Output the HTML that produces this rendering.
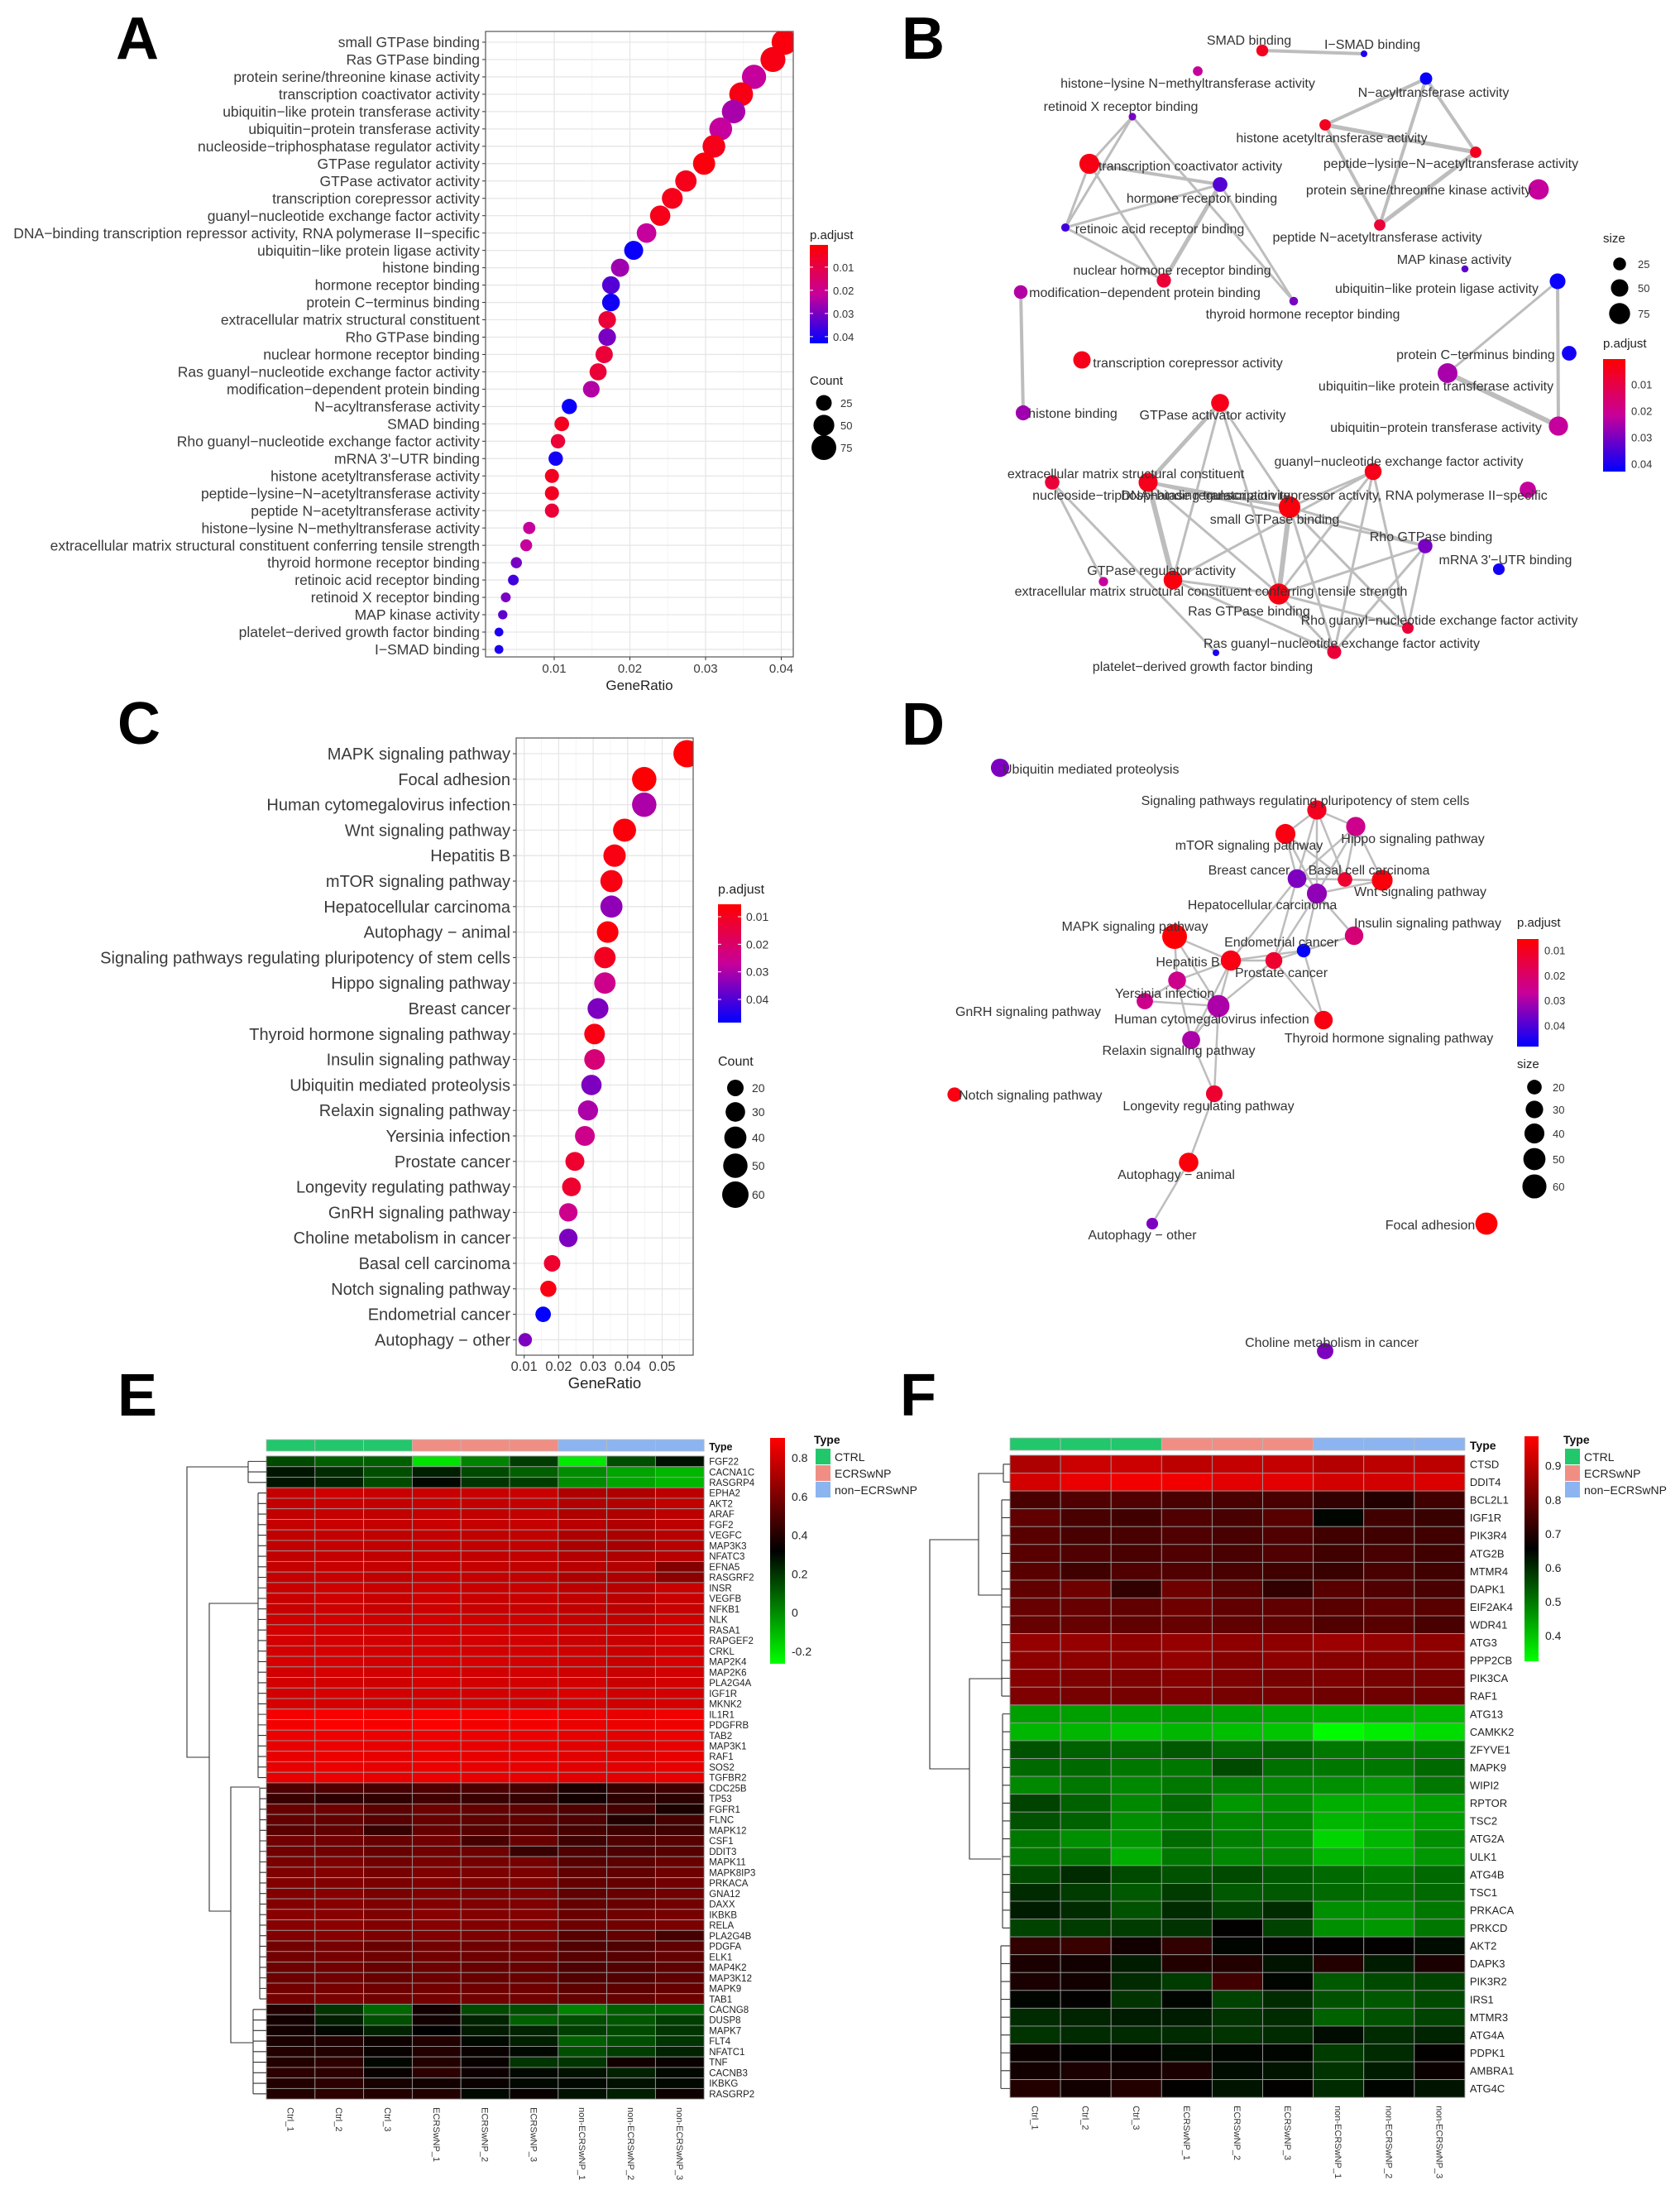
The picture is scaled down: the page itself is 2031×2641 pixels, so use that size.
<!DOCTYPE html>
<html><head><meta charset="utf-8"><title>Enrichment figure</title>
<style>
html,body{margin:0;padding:0;background:#fff;}
svg{display:block;font-family:"Liberation Sans",Arial,sans-serif;}
</style></head>
<body>
<svg id="fig" width="2031" height="2641" viewBox="0 0 2031 2641" xmlns="http://www.w3.org/2000/svg">
<rect x="0" y="0" width="2031" height="2641" fill="#fff"/>
<defs>
<clipPath id="clipA"><rect x="587" y="38" width="372" height="756"/></clipPath>
<clipPath id="clipC"><rect x="624" y="892" width="214" height="746"/></clipPath>
<linearGradient id="gradP" x1="0" y1="0" x2="0" y2="1"><stop offset="0" stop-color="#ff0000"/><stop offset="0.5" stop-color="#c8009a"/><stop offset="1" stop-color="#0000ff"/></linearGradient>
<linearGradient id="gradH" x1="0" y1="0" x2="0" y2="1"><stop offset="0" stop-color="#ff0000"/><stop offset="0.5" stop-color="#000000"/><stop offset="1" stop-color="#00ff00"/></linearGradient>
</defs>
<g font-weight="bold" font-size="72" fill="#000">
<text x="140" y="71">A</text>
<text x="1090" y="71">B</text>
<text x="142" y="899">C</text>
<text x="1090" y="900">D</text>
<text x="142" y="1711">E</text>
<text x="1088" y="1711">F</text>
</g>
<g id="gA"></g><g id="gB"></g><g id="gC"></g><g id="gD"></g><g id="gE"></g><g id="gF"></g>
</svg>
<script>
// ---------------- Panel A data ----------------
const A_terms = ["small GTPase binding","Ras GTPase binding","protein serine/threonine kinase activity","transcription coactivator activity","ubiquitin−like protein transferase activity","ubiquitin−protein transferase activity","nucleoside−triphosphatase regulator activity","GTPase regulator activity","GTPase activator activity","transcription corepressor activity","guanyl−nucleotide exchange factor activity","DNA−binding transcription repressor activity, RNA polymerase II−specific","ubiquitin−like protein ligase activity","histone binding","hormone receptor binding","protein C−terminus binding","extracellular matrix structural constituent","Rho GTPase binding","nuclear hormone receptor binding","Ras guanyl−nucleotide exchange factor activity","modification−dependent protein binding","N−acyltransferase activity","SMAD binding","Rho guanyl−nucleotide exchange factor activity","mRNA 3'−UTR binding","histone acetyltransferase activity","peptide−lysine−N−acetyltransferase activity","peptide N−acetyltransferase activity","histone−lysine N−methyltransferase activity","extracellular matrix structural constituent conferring tensile strength","thyroid hormone receptor binding","retinoic acid receptor binding","retinoid X receptor binding","MAP kinase activity","platelet−derived growth factor binding","I−SMAD binding"];
const A_ratio = [0.0404,0.0389,0.0364,0.0347,0.0337,0.0320,0.0311,0.0298,0.0274,0.0256,0.0240,0.0222,0.0205,0.0187,0.0175,0.0175,0.0170,0.0170,0.0166,0.0158,0.0149,0.0120,0.0110,0.0105,0.0102,0.0097,0.0097,0.0097,0.0067,0.0063,0.0050,0.0046,0.0036,0.0032,0.0027,0.0027];
const A_padj = [0.002,0.003,0.022,0.003,0.025,0.022,0.004,0.002,0.004,0.004,0.004,0.022,0.042,0.026,0.034,0.041,0.008,0.030,0.008,0.008,0.024,0.042,0.005,0.008,0.041,0.005,0.005,0.008,0.022,0.022,0.030,0.036,0.030,0.033,0.040,0.040];
const A_count = [79,76,71,68,66,62,61,58,53,50,47,43,40,36,34,34,33,33,32,31,29,23,21,20,20,19,19,19,13,12,10,9,7,6,5,5];
const A_xticks = [0.01,0.02,0.03,0.04];
const A_ptick = [0.01,0.02,0.03,0.04];
const A_cntLeg = [25,50,75];

// ---------------- Panel C data ----------------
const C_terms = ["MAPK signaling pathway","Focal adhesion","Human cytomegalovirus infection","Wnt signaling pathway","Hepatitis B","mTOR signaling pathway","Hepatocellular carcinoma","Autophagy − animal","Signaling pathways regulating pluripotency of stem cells","Hippo signaling pathway","Breast cancer","Thyroid hormone signaling pathway","Insulin signaling pathway","Ubiquitin mediated proteolysis","Relaxin signaling pathway","Yersinia infection","Prostate cancer","Longevity regulating pathway","GnRH signaling pathway","Choline metabolism in cancer","Basal cell carcinoma","Notch signaling pathway","Endometrial cancer","Autophagy − other"];
const C_ratio = [0.0572,0.0448,0.0448,0.0391,0.0362,0.0353,0.0353,0.0342,0.0334,0.0334,0.0314,0.0304,0.0304,0.0295,0.0285,0.0276,0.0247,0.0237,0.0228,0.0228,0.0181,0.0170,0.0155,0.0103];
const C_padj = [0.006,0.006,0.030,0.007,0.008,0.008,0.033,0.007,0.010,0.025,0.035,0.008,0.022,0.035,0.030,0.025,0.012,0.012,0.025,0.035,0.012,0.008,0.048,0.035];
const C_count = [64,50,50,44,41,40,40,38,37,37,35,34,34,33,32,31,28,27,26,26,20,19,17,12];
const C_xticks = [0.01,0.02,0.03,0.04,0.05];
const C_ptick = [0.01,0.02,0.03,0.04];
const C_cntLeg = [20,30,40,50,60];

// ---------------- Panel B network ----------------
const B_nodes = ["SMAD binding","I−SMAD binding","histone−lysine N−methyltransferase activity","N−acyltransferase activity","retinoid X receptor binding","histone acetyltransferase activity","peptide−lysine−N−acetyltransferase activity","transcription coactivator activity","hormone receptor binding","protein serine/threonine kinase activity","retinoic acid receptor binding","peptide N−acetyltransferase activity","MAP kinase activity","nuclear hormone receptor binding","ubiquitin−like protein ligase activity","modification−dependent protein binding","thyroid hormone receptor binding","transcription corepressor activity","protein C−terminus binding","ubiquitin−like protein transferase activity","histone binding","GTPase activator activity","ubiquitin−protein transferase activity","guanyl−nucleotide exchange factor activity","extracellular matrix structural constituent","nucleoside−triphosphatase regulator activity","DNA−binding transcription repressor activity, RNA polymerase II−specific","small GTPase binding","Rho GTPase binding","mRNA 3'−UTR binding","GTPase regulator activity","extracellular matrix structural constituent conferring tensile strength","Ras GTPase binding","Rho guanyl−nucleotide exchange factor activity","Ras guanyl−nucleotide exchange factor activity","platelet−derived growth factor binding"];
const B_nodeX = [1526,1649,1448,1724,1369,1602,1784,1317,1475,1860,1288,1668,1771,1407,1883,1234,1564,1308,1897,1750,1237,1475,1884,1660,1272,1388,1847,1559,1723,1812,1418,1334,1546,1702,1613,1470];
const B_nodeY = [61,65,86,95,141,151,184,198,223,229,275,272,325,339,340,353,364,435,427,451,499,487,515,570,583,583,592,613,660,688,701,703,718,759,788,789];
const B_labX = [1510,1659,1436,1733,1355,1610,1754,1439,1453,1715,1402,1665,1758,1417,1737,1384,1575,1436,1784,1736,1297,1466,1736,1691,1361,1404,1613,1541,1730,1820,1404,1464,1510,1740,1622,1454];
const B_labY = [54,59,106,117,134,172,203,206,245,235,282,292,319,332,354,359,385,444,434,472,505,507,522,563,578,604,604,633,654,682,695,720,744,755,783,811];
const B_edgeFrom = [0,3,3,3,5,5,6,4,4,4,7,7,7,8,8,8,10,15,14,14,19,21,21,21,21,24,24,25,25,25,25,27,27,27,27,27,23,23,23,30,30,30,28,28,28,32,32,18];
const B_edgeTo   = [1,5,6,11,6,11,11,7,10,16,8,10,13,10,13,16,13,20,19,22,22,25,30,27,32,35,31,27,30,32,28,32,23,28,34,33,32,33,34,32,23,34,32,33,34,34,33,22];
const B_edgeW    = [4,4,4,4,5,4,5,3,3,3,4,3,3,3,5,3,3,4,3,4,6,5,3,3,3,3,3,4,6,3,3,6,3,3,3,3,3,3,3,3,3,3,3,3,3,3,3,0];

// ---------------- Panel D network ----------------
const D_nodes = ["Ubiquitin mediated proteolysis","Signaling pathways regulating pluripotency of stem cells","Hippo signaling pathway","mTOR signaling pathway","Breast cancer","Basal cell carcinoma","Wnt signaling pathway","Hepatocellular carcinoma","Insulin signaling pathway","MAPK signaling pathway","Endometrial cancer","Hepatitis B","Prostate cancer","Yersinia infection","GnRH signaling pathway","Human cytomegalovirus infection","Thyroid hormone signaling pathway","Relaxin signaling pathway","Notch signaling pathway","Longevity regulating pathway","Autophagy − animal","Autophagy − other","Focal adhesion","Choline metabolism in cancer"];
const D_nodeX = [1209,1592,1639,1554,1568,1626,1671,1592,1637,1420,1576,1488,1540,1423,1384,1473,1600,1440,1154,1468,1437,1393,1797,1602];
const D_nodeY = [928,979,999,1008,1062,1063,1064,1080,1131,1132,1149,1161,1161,1185,1210,1216,1233,1257,1323,1322,1405,1479,1479,1633];
const D_labX = [1212,1578,1708,1510,1510,1655,1717,1526,1726,1372,1549,1436,1549,1408,1243,1465,1679,1425,1159,1461,1422,1381,1729,1610];
const D_labY = [935,973,1019,1027,1057,1057,1083,1099,1121,1125,1144,1168,1181,1206,1228,1237,1260,1275,1329,1342,1425,1498,1486,1628];
const D_edgeFrom = [1,1,1,1,1,3,3,3,2,2,2,2,4,4,4,5,7,7,7,7,4,4,9,9,9,11,11,11,11,11,12,12,12,10,13,13,13,14,15,17,15,19,20,8];
const D_edgeTo   = [2,3,4,7,5,4,7,5,4,6,7,5,5,7,6,6,6,8,10,12,12,11,11,13,15,12,13,15,17,10,10,16,15,16,14,15,17,15,17,19,19,20,21,10];

// ---------------- Panel E heatmap ----------------
const E_samples = ["Ctrl_1","Ctrl_2","Ctrl_3","ECRSwNP_1","ECRSwNP_2","ECRSwNP_3","non-ECRSwNP_1","non-ECRSwNP_2","non-ECRSwNP_3"];
const E_groups = [0,0,0,1,1,1,2,2,2];
const E_genes = ["FGF22","CACNA1C","RASGRP4","EPHA2","AKT2","ARAF","FGF2","VEGFC","MAP3K3","NFATC3","EFNA5","RASGRF2","INSR","VEGFB","NFKB1","NLK","RASA1","RAPGEF2","CRKL","MAP2K4","MAP2K6","PLA2G4A","IGF1R","MKNK2","IL1R1","PDGFRB","TAB2","MAP3K1","RAF1","SOS2","TGFBR2","CDC25B","TP53","FGFR1","FLNC","MAPK12","CSF1","DDIT3","MAPK11","MAPK8IP3","PRKACA","GNA12","DAXX","IKBKB","RELA","PLA2G4B","PDGFA","ELK1","MAP4K2","MAP3K12","MAPK9","TAB1","CACNG8","DUSP8","MAPK7","FLT4","NFATC1","TNF","CACNB3","IKBKG","RASGRP2"];
const E_values = [
[0.15,0.10,0.10,-0.20,0.02,0.18,-0.22,0.14,0.28],
[0.27,0.22,0.14,0.25,0.15,0.10,0.00,-0.06,-0.10],
[0.27,0.24,0.15,0.30,0.20,0.18,0.00,-0.06,-0.10],
[0.77,0.79,0.78,0.78,0.78,0.78,0.72,0.72,0.75],
[0.77,0.78,0.77,0.78,0.77,0.77,0.73,0.73,0.76],
[0.76,0.77,0.76,0.77,0.76,0.76,0.72,0.72,0.75],
[0.77,0.78,0.77,0.78,0.77,0.77,0.74,0.72,0.75],
[0.76,0.77,0.76,0.77,0.76,0.76,0.72,0.71,0.74],
[0.76,0.77,0.76,0.77,0.76,0.76,0.71,0.70,0.74],
[0.76,0.77,0.76,0.77,0.76,0.76,0.73,0.72,0.74],
[0.77,0.78,0.77,0.78,0.77,0.76,0.74,0.73,0.62],
[0.77,0.78,0.76,0.78,0.77,0.76,0.72,0.72,0.64],
[0.78,0.79,0.78,0.79,0.78,0.78,0.75,0.74,0.78],
[0.78,0.79,0.78,0.79,0.78,0.78,0.76,0.75,0.78],
[0.78,0.79,0.78,0.79,0.78,0.78,0.76,0.75,0.78],
[0.79,0.80,0.79,0.80,0.79,0.79,0.77,0.76,0.79],
[0.80,0.80,0.79,0.80,0.80,0.79,0.78,0.77,0.80],
[0.80,0.80,0.80,0.80,0.80,0.80,0.78,0.78,0.80],
[0.80,0.81,0.80,0.81,0.80,0.80,0.79,0.78,0.80],
[0.81,0.81,0.80,0.81,0.81,0.80,0.79,0.78,0.81],
[0.80,0.81,0.80,0.81,0.80,0.80,0.79,0.78,0.80],
[0.80,0.80,0.79,0.81,0.80,0.80,0.80,0.78,0.80],
[0.80,0.81,0.80,0.80,0.80,0.80,0.82,0.79,0.80],
[0.81,0.81,0.80,0.81,0.81,0.80,0.81,0.79,0.81],
[0.88,0.89,0.88,0.89,0.88,0.88,0.86,0.85,0.87],
[0.88,0.90,0.89,0.90,0.88,0.88,0.86,0.86,0.87],
[0.86,0.87,0.86,0.87,0.86,0.86,0.85,0.84,0.86],
[0.85,0.86,0.85,0.86,0.85,0.85,0.84,0.83,0.85],
[0.85,0.86,0.85,0.86,0.85,0.85,0.84,0.83,0.85],
[0.85,0.86,0.85,0.86,0.85,0.85,0.84,0.84,0.85],
[0.85,0.86,0.85,0.86,0.85,0.85,0.84,0.84,0.85],
[0.50,0.50,0.48,0.50,0.49,0.48,0.38,0.44,0.46],
[0.45,0.42,0.43,0.47,0.45,0.44,0.36,0.42,0.42],
[0.56,0.57,0.53,0.57,0.55,0.54,0.50,0.48,0.38],
[0.55,0.55,0.52,0.56,0.54,0.54,0.50,0.40,0.48],
[0.52,0.54,0.44,0.55,0.52,0.52,0.48,0.46,0.46],
[0.58,0.58,0.56,0.58,0.48,0.56,0.46,0.50,0.52],
[0.58,0.58,0.56,0.58,0.57,0.45,0.50,0.50,0.52],
[0.60,0.61,0.58,0.60,0.59,0.59,0.52,0.53,0.56],
[0.61,0.62,0.59,0.61,0.60,0.60,0.54,0.54,0.57],
[0.62,0.62,0.60,0.62,0.61,0.61,0.55,0.55,0.58],
[0.62,0.63,0.60,0.62,0.61,0.61,0.54,0.56,0.58],
[0.62,0.63,0.61,0.62,0.61,0.61,0.55,0.56,0.58],
[0.63,0.63,0.61,0.63,0.62,0.62,0.56,0.57,0.59],
[0.63,0.64,0.62,0.63,0.62,0.62,0.57,0.58,0.60],
[0.62,0.63,0.61,0.62,0.61,0.61,0.52,0.55,0.48],
[0.58,0.59,0.56,0.58,0.57,0.57,0.50,0.50,0.54],
[0.58,0.59,0.57,0.58,0.57,0.57,0.52,0.52,0.55],
[0.57,0.58,0.56,0.57,0.56,0.56,0.50,0.51,0.54],
[0.57,0.58,0.56,0.57,0.56,0.56,0.51,0.51,0.54],
[0.58,0.59,0.57,0.58,0.57,0.57,0.53,0.53,0.55],
[0.59,0.60,0.58,0.59,0.58,0.58,0.55,0.55,0.57],
[0.40,0.20,0.08,0.36,0.15,0.14,0.02,0.10,0.08],
[0.36,0.25,0.14,0.36,0.24,0.10,0.14,0.12,0.18],
[0.36,0.30,0.24,0.32,0.26,0.24,0.18,0.15,0.20],
[0.38,0.40,0.35,0.40,0.30,0.25,0.10,0.14,0.20],
[0.40,0.40,0.34,0.40,0.34,0.30,0.14,0.18,0.24],
[0.40,0.42,0.30,0.40,0.34,0.20,0.20,0.36,0.34],
[0.42,0.42,0.34,0.42,0.35,0.30,0.28,0.24,0.30],
[0.40,0.42,0.37,0.36,0.34,0.30,0.30,0.28,0.30],
[0.40,0.42,0.40,0.40,0.30,0.34,0.28,0.25,0.35]];
const E_cbTicks = [0.8,0.6,0.4,0.2,0,-0.2];

// ---------------- Panel F heatmap ----------------
const F_samples = ["Ctrl_1","Ctrl_2","Ctrl_3","ECRSwNP_1","ECRSwNP_2","ECRSwNP_3","non-ECRSwNP_1","non-ECRSwNP_2","non-ECRSwNP_3"];
const F_groups = [0,0,0,1,1,1,2,2,2];
const F_genes = ["CTSD","DDIT4","BCL2L1","IGF1R","PIK3R4","ATG2B","MTMR4","DAPK1","EIF2AK4","WDR41","ATG3","PPP2CB","PIK3CA","RAF1","ATG13","CAMKK2","ZFYVE1","MAPK9","WIPI2","RPTOR","TSC2","ATG2A","ULK1","ATG4B","TSC1","PRKACA","PRKCD","AKT2","DAPK3","PIK3R2","IRS1","MTMR3","ATG4A","PDPK1","AMBRA1","ATG4C"];
const F_values = [
[0.88,0.92,0.92,0.90,0.91,0.91,0.89,0.90,0.90],
[0.93,0.96,0.97,0.97,0.95,0.95,0.93,0.93,0.94],
[0.75,0.76,0.76,0.75,0.75,0.75,0.72,0.70,0.74],
[0.78,0.75,0.74,0.76,0.75,0.77,0.65,0.74,0.73],
[0.77,0.75,0.75,0.76,0.75,0.76,0.74,0.74,0.74],
[0.77,0.76,0.75,0.76,0.75,0.76,0.74,0.75,0.74],
[0.77,0.74,0.76,0.76,0.75,0.74,0.73,0.75,0.74],
[0.78,0.80,0.72,0.80,0.77,0.72,0.77,0.76,0.75],
[0.79,0.79,0.78,0.80,0.78,0.78,0.77,0.78,0.77],
[0.79,0.79,0.78,0.79,0.78,0.78,0.76,0.77,0.75],
[0.85,0.85,0.84,0.85,0.84,0.84,0.86,0.85,0.84],
[0.84,0.84,0.84,0.85,0.83,0.84,0.83,0.83,0.83],
[0.83,0.82,0.82,0.83,0.82,0.81,0.82,0.81,0.81],
[0.82,0.81,0.81,0.82,0.81,0.81,0.80,0.80,0.80],
[0.45,0.45,0.45,0.46,0.45,0.44,0.43,0.43,0.42],
[0.42,0.42,0.40,0.42,0.41,0.40,0.33,0.35,0.37],
[0.55,0.53,0.52,0.54,0.52,0.53,0.50,0.50,0.50],
[0.52,0.52,0.50,0.50,0.56,0.51,0.50,0.50,0.52],
[0.48,0.50,0.48,0.50,0.49,0.48,0.47,0.46,0.50],
[0.57,0.53,0.48,0.52,0.46,0.47,0.43,0.43,0.45],
[0.55,0.53,0.47,0.50,0.48,0.48,0.42,0.43,0.45],
[0.50,0.47,0.46,0.52,0.49,0.47,0.38,0.42,0.47],
[0.50,0.50,0.43,0.50,0.48,0.48,0.42,0.43,0.46],
[0.56,0.60,0.56,0.55,0.56,0.54,0.52,0.50,0.52],
[0.60,0.58,0.54,0.58,0.54,0.54,0.52,0.51,0.52],
[0.62,0.60,0.55,0.60,0.57,0.60,0.47,0.47,0.50],
[0.57,0.58,0.58,0.59,0.66,0.57,0.47,0.46,0.50],
[0.72,0.73,0.68,0.72,0.65,0.66,0.66,0.66,0.64],
[0.69,0.68,0.62,0.70,0.70,0.63,0.70,0.62,0.69],
[0.69,0.68,0.60,0.58,0.74,0.65,0.54,0.56,0.57],
[0.65,0.66,0.59,0.65,0.57,0.60,0.55,0.54,0.56],
[0.60,0.61,0.62,0.62,0.59,0.60,0.53,0.55,0.57],
[0.59,0.60,0.60,0.60,0.59,0.60,0.64,0.60,0.61],
[0.67,0.66,0.66,0.64,0.65,0.65,0.58,0.60,0.66],
[0.68,0.69,0.68,0.69,0.64,0.63,0.59,0.62,0.67],
[0.70,0.68,0.70,0.66,0.63,0.66,0.60,0.65,0.63]];
const F_cbTicks = [0.9,0.8,0.7,0.6,0.5,0.4];
const groupNames = ["CTRL","ECRSwNP","non−ECRSwNP"];
const groupColors = ["#22c76b","#f08e84","#8cb4f0"];

// ================= helpers =================
const NS = "http://www.w3.org/2000/svg";
function mk(tag, parent){ const e=document.createElementNS(NS,tag); parent.appendChild(e); return e; }
function setA(e, o){ for(const k in o) e.setAttribute(k,o[k]); return e; }
function lerp(a,b,t){return Math.round(a+(b-a)*t);}
function padjColor(p,pmin,pmax){
  let t=(p-pmin)/(pmax-pmin); t=Math.max(0,Math.min(1,t));
  const s=[[255,0,0],[200,0,154],[0,0,255]];
  let a,b,u; if(t<0.5){a=s[0];b=s[1];u=t/0.5;} else {a=s[1];b=s[2];u=(t-0.5)/0.5;}
  return "rgb("+lerp(a[0],b[0],u)+","+lerp(a[1],b[1],u)+","+lerp(a[2],b[2],u)+")";
}
function heatColor(v,vmin,vmid,vmax){
  if(v>=vmid){ const t=Math.min(1,(v-vmid)/(vmax-vmid)); return "rgb("+Math.round(255*t)+",0,0)"; }
  const t=Math.min(1,(vmid-v)/(vmid-vmin)); return "rgb(0,"+Math.round(255*t)+",0)";
}
function rA(c){return 2+1.5*Math.sqrt(c);}
function rC(c){return 1.8+1.83*Math.sqrt(c);}

// ================= dot plot =================
function dotPlot(g, cfg){
  const {terms,ratio,padj,count,xticks,ptick,cntLeg,x0,x1,y0,y1,xs,ys,fs,tfs,clip,pmin,pmax,rfun,leg} = cfg;
  const bg=mk("rect",g); setA(bg,{x:x0,y:y0,width:x1-x0,height:y1-y0,fill:"#fff"});
  for(let i=0;i<xticks.length+1;i++){
    const v=xticks[0]-(xticks[1]-xticks[0])/2+i*(xticks[1]-xticks[0]);
    const X=xs(v); if(X>x0&&X<x1){const l=mk("line",g); setA(l,{x1:X,x2:X,y1:y0,y2:y1,stroke:"#f2f2f2","stroke-width":0.8});}
  }
  xticks.forEach(v=>{const X=xs(v); const l=mk("line",g); setA(l,{x1:X,x2:X,y1:y0,y2:y1,stroke:"#e6e6e6","stroke-width":1.3});
    
    });
  terms.forEach((t,i)=>{const Y=ys(i); const l=mk("line",g); setA(l,{x1:x0,x2:x1,y1:Y,y2:Y,stroke:"#e6e6e6","stroke-width":1.3});});
  const dots=mk("g",g); dots.setAttribute("clip-path","url(#"+clip+")");
  terms.forEach((t,i)=>{
    const c=mk("circle",dots); setA(c,{cx:xs(ratio[i]),cy:ys(i),r:rfun(count[i]),fill:padjColor(padj[i],pmin,pmax)});
    
    
    const tk=mk("line",g); setA(tk,{x1:x0-4,x2:x0,y1:ys(i),y2:ys(i),stroke:"#333","stroke-width":1});
    const tx=mk("text",g); setA(tx,{x:x0-7,y:ys(i)+fs*0.35,"text-anchor":"end","font-size":fs,fill:"#3a3a3a"}); tx.textContent=t;
    
    
  });
  const bd=mk("rect",g); setA(bd,{x:x0,y:y0,width:x1-x0,height:y1-y0,fill:"none",stroke:"#555","stroke-width":1.2});
  
  
  xticks.forEach(v=>{const X=xs(v); const l=mk("line",g); setA(l,{x1:X,x2:X,y1:y1,y2:y1+4,stroke:"#333"});
    const tx=mk("text",g); setA(tx,{x:X,y:y1+19,"text-anchor":"middle","font-size":tfs,fill:"#3a3a3a"}); tx.textContent=String(v);
    
    });
  const xt=mk("text",g); setA(xt,{x:(x0+x1)/2,y:y1+40,"text-anchor":"middle","font-size":tfs+2,fill:"#222"}); xt.textContent="GeneRatio";
  
  
  const pt=mk("text",g); setA(pt,{x:leg.px,y:leg.py,"font-size":leg.fs+1,fill:"#222"}); pt.textContent="p.adjust";
  
  
  const cb=mk("rect",g); setA(cb,{x:leg.px,y:leg.by0,width:leg.bw,height:leg.by1-leg.by0,fill:"url(#gradP)"});
  
  
  ptick.forEach(v=>{const Y=leg.by0+(v-pmin)/(pmax-pmin)*(leg.by1-leg.by0);
    const l=mk("line",g); setA(l,{x1:leg.px,x2:leg.px+4,y1:Y,y2:Y,stroke:"#fff"});
    const l2=mk("line",g); setA(l2,{x1:leg.px+leg.bw-4,x2:leg.px+leg.bw,y1:Y,y2:Y,stroke:"#fff"});
    const tx=mk("text",g); setA(tx,{x:leg.px+leg.bw+6,y:Y+5,"font-size":leg.fs-1,fill:"#333"}); tx.textContent=v.toFixed(2);
    
    });
  const ct=mk("text",g); setA(ct,{x:leg.px,y:leg.cy,"font-size":leg.fs+1,fill:"#222"}); ct.textContent="Count";
  
  
  cntLeg.forEach((c,i)=>{const Y=leg.dy[i];
    const d=mk("circle",g); setA(d,{cx:leg.dx,cy:Y,r:rfun(c),fill:"#000"});
    
    
    const tx=mk("text",g); setA(tx,{x:leg.dx+20,y:Y+5,"font-size":leg.fs-1,fill:"#333"}); tx.textContent=String(c);});
}

dotPlot(document.getElementById("gA"),{terms:A_terms,ratio:A_ratio,padj:A_padj,count:A_count,xticks:A_xticks,ptick:A_ptick,cntLeg:A_cntLeg,
  x0:587,x1:959,y0:38,y1:794,xs:v=>578.5+v*9150,ys:i=>51+i*20.97,fs:17.5,tfs:15,clip:"clipA",pmin:0.0004,pmax:0.0429,rfun:rA,
  leg:{px:979,py:289,by0:296,by1:415,bw:22,fs:14,cy:465,dx:996,dy:[487,514,541]}});
dotPlot(document.getElementById("gC"),{terms:C_terms,ratio:C_ratio,padj:C_padj,count:C_count,xticks:C_xticks,ptick:C_ptick,cntLeg:C_cntLeg,
  x0:624,x1:838,y0:892,y1:1638,xs:v=>592+v*4170,ys:i=>911+i*30.8,fs:20,tfs:16.5,clip:"clipC",pmin:0.0055,pmax:0.0484,rfun:rC,
  leg:{px:868,py:1080,by0:1093,by1:1236,bw:28,fs:15,cy:1288,dx:889,dy:[1315,1344,1375,1409,1444]}});

// ================= networks =================
function network(g,cfg){
  const {nodes,nx,ny,lx,ly,ef,et,ew,valsFrom,fs,pmin,pmax,rfun,leg,anchorStart} = cfg;
  const eg=mk("g",g);
  ef.forEach((a,i)=>{const w=ew?ew[i]:2.5; if(w<=0) return; const l=mk("line",eg); setA(l,{x1:nx[a],y1:ny[a],x2:nx[et[i]],y2:ny[et[i]],stroke:"#bdbdbd","stroke-width":w});
    
    });
  nodes.forEach((n,i)=>{const k=valsFrom.terms.indexOf(n);
    const c=mk("circle",g); setA(c,{cx:nx[i],cy:ny[i],r:rfun(valsFrom.count[k]),fill:padjColor(valsFrom.padj[k],pmin,pmax)});
    
    });
  nodes.forEach((n,i)=>{const tx=mk("text",g);
    setA(tx,{x:lx[i],y:ly[i],"text-anchor":(anchorStart.indexOf(i)>=0?"start":"middle"),"font-size":fs,fill:"#333"}); tx.textContent=n;
    
    });
  const st=mk("text",g); setA(st,{x:leg.sx,y:leg.sy,"font-size":15,fill:"#222"}); st.textContent="size";
  
  
  leg.sizes.forEach((s,i)=>{const d=mk("circle",g); setA(d,{cx:leg.dx,cy:leg.dy[i],r:rfun(s),fill:"#000"});
    const tx=mk("text",g); setA(tx,{x:leg.dx+22,y:leg.dy[i]+5,"font-size":13,fill:"#333"}); tx.textContent=String(s);});
  const pt=mk("text",g); setA(pt,{x:leg.px,y:leg.py,"font-size":15,fill:"#222"}); pt.textContent="p.adjust";
  
  
  const cb=mk("rect",g); setA(cb,{x:leg.bx,y:leg.by0,width:leg.bw,height:leg.by1-leg.by0,fill:"url(#gradP)"});
  
  
  leg.pt.forEach(v=>{const Y=leg.by0+(v-pmin)/(pmax-pmin)*(leg.by1-leg.by0);
    const tx=mk("text",g); setA(tx,{x:leg.bx+leg.bw+7,y:Y+5,"font-size":13,fill:"#333"}); tx.textContent=v.toFixed(2);});
}
network(document.getElementById("gB"),{nodes:B_nodes,nx:B_nodeX,ny:B_nodeY,lx:B_labX,ly:B_labY,ef:B_edgeFrom,et:B_edgeTo,ew:B_edgeW,
  valsFrom:{terms:A_terms,count:A_count,padj:A_padj},fs:16,pmin:0.0004,pmax:0.0429,rfun:c=>1+1.35*Math.sqrt(c),anchorStart:[],
  leg:{sx:1938,sy:293,sizes:[25,50,75],dx:1958,dy:[319,348,379],px:1938,py:420,bx:1938,bw:27,by0:434,by1:570,pt:[0.01,0.02,0.03,0.04]}});
network(document.getElementById("gD"),{nodes:D_nodes,nx:D_nodeX,ny:D_nodeY,lx:D_labX,ly:D_labY,ef:D_edgeFrom,et:D_edgeTo,ew:null,
  valsFrom:{terms:C_terms,count:C_count,padj:C_padj},fs:16,pmin:0.0055,pmax:0.0484,rfun:c=>1+1.75*Math.sqrt(c),anchorStart:[0,18],
  leg:{sx:1834,sy:1291,sizes:[20,30,40,50,60],dx:1855,dy:[1314,1341,1370,1401,1434],px:1834,py:1120,bx:1834,bw:26,by0:1135,by1:1265,pt:[0.01,0.02,0.03,0.04]}});

// ================= heatmaps =================
function comb(g,x,r0,r1,yOf,xr){
  const p=mk("path",g); let d="M"+x+","+yOf(r0)+"V"+yOf(r1);
  for(let r=r0;r<=r1;r++){ d+="M"+x+","+yOf(r)+"H"+xr; }
  setA(p,{d:d,stroke:"#333","stroke-width":1.1,fill:"none"});
}
function bracket(g,x,ya,yb,xa,xb){
  const p=mk("path",g); setA(p,{d:"M"+xa+","+ya+"H"+x+"V"+yb+"H"+xb,stroke:"#333","stroke-width":1.1,fill:"none"});
}
function heatmap(g,cfg){
  const {genes,samples,groups,vals,x0,y0,cw,ch,vmin,vmid,vmax,fs,cb,ticks,leg,dendro,annY,annH} = cfg;
  groups.forEach((gr,j)=>{const r=mk("rect",g); setA(r,{x:x0+j*cw,y:annY,width:cw,height:annH,fill:groupColors[gr],stroke:"#bbb","stroke-width":0.8});
    
    });
  const tt=mk("text",g); setA(tt,{x:x0+samples.length*cw+6,y:annY+annH-1,"font-size":fs+1,"font-weight":"bold",fill:"#111"}); tt.textContent="Type";
  vals.forEach((row,i)=>{row.forEach((v,j)=>{
    const r=mk("rect",g); setA(r,{x:x0+j*cw,y:y0+i*ch,width:cw,height:ch,fill:heatColor(v,vmin,vmid,vmax),stroke:"#9a9a9a","stroke-width":0.9});
    
    });
    const tx=mk("text",g); setA(tx,{x:x0+samples.length*cw+6,y:y0+i*ch+ch/2+fs*0.36,"font-size":fs,fill:"#222"}); tx.textContent=genes[i];
    
    });
  samples.forEach((s,j)=>{const X=x0+j*cw+cw/2-4; const Y=y0+vals.length*ch+10;
    const tx=mk("text",g); setA(tx,{x:X,y:Y,"font-size":11,fill:"#333",transform:"rotate(90 "+X+" "+Y+")"}); tx.textContent=s;
    
    });
  const cbr=mk("rect",g); setA(cbr,{x:cb.x,y:cb.y0,width:cb.w,height:cb.y1-cb.y0,fill:"url(#gradH)"});
  
  
  ticks.forEach(v=>{const Y=cb.y0+(vmax-v)/(vmax-vmin)*(cb.y1-cb.y0);
    const tx=mk("text",g); setA(tx,{x:cb.x+cb.w+8,y:Y+5,"font-size":14,fill:"#222"}); tx.textContent=String(v);});
  const lt=mk("text",g); setA(lt,{x:leg.x,y:leg.y,"font-size":14,"font-weight":"bold",fill:"#111"}); lt.textContent="Type";
  groupNames.forEach((n,i)=>{const r=mk("rect",g); setA(r,{x:leg.x+2,y:leg.y+6+i*20,width:18,height:19,fill:groupColors[i]});
    
    
    const tx=mk("text",g); setA(tx,{x:leg.x+25,y:leg.y+21+i*20,"font-size":14,fill:"#222"}); tx.textContent=n;
    
    });
  const yOf=r=>y0+r*ch+ch/2;
  const dg=mk("g",g);
  dendro.combs.forEach(c=>comb(dg,c[2],c[0],c[1],yOf,x0));
  dendro.brackets.forEach(b=>bracket(dg,b[0],b[1],b[2],b[3],b[4]));
}
heatmap(document.getElementById("gE"),{genes:E_genes,samples:E_samples,groups:E_groups,vals:E_values,x0:322,y0:1760,cw:58.8,ch:12.74,
  vmin:-0.265,vmid:0.319,vmax:0.903,fs:11.5,annY:1740,annH:14,ticks:E_cbTicks,cb:{x:931,w:18,y0:1738,y1:2011},leg:{x:984,y:1745},
  dendro:{combs:[[0,2,300],[3,30,312],[31,51,314],[52,60,306]],
    brackets:[[279,2160,2469,314,306],[253,1938,2310,312,279],[226,1773,2124,300,253]]}});
heatmap(document.getElementById("gF"),{genes:F_genes,samples:F_samples,groups:F_groups,vals:F_values,x0:1221,y0:1759,cw:61.1,ch:21.56,
  vmin:0.325,vmid:0.656,vmax:0.987,fs:13,annY:1738,annH:15,ticks:F_cbTicks,cb:{x:1843,w:17,y0:1736,y1:2008},leg:{x:1890,y:1745},
  dendro:{combs:[[0,1,1213],[2,13,1211],[14,26,1212],[27,35,1210]],
    brackets:[[1183,1781,1928,1213,1211],[1172,2029,2247,1212,1210],[1124,1861,2138,1183,1172]]}});
</script>
</body></html>
